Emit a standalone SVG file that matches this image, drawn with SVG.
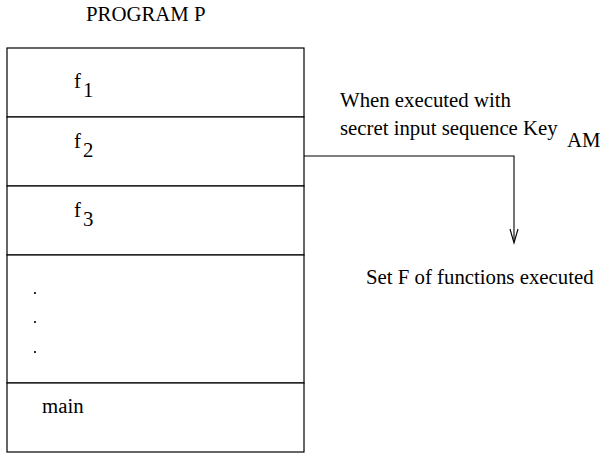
<svg xmlns="http://www.w3.org/2000/svg" width="600" height="455" viewBox="0 0 600 455">
  <style>
    text { font-family: "Liberation Serif", "Times New Roman", serif; font-size: 20.8px; fill: #000; }
    .box { fill: #fff; stroke: #000; stroke-width: 1.2; }
    .wire { fill: none; stroke: #000; stroke-width: 1.1; }
  </style>
  <rect width="600" height="455" fill="#fff"/>
  <text id="title" x="86" y="21">PROGRAM P</text>
  <g id="program">
    <g id="f1">
      <rect class="box" x="7" y="48" width="297" height="69"/>
      <text x="74" y="88">f<tspan dx="2" dy="9">1</tspan></text>
    </g>
    <g id="f2">
      <rect class="box" x="7" y="117" width="297" height="69"/>
      <text x="74" y="148">f<tspan dx="2" dy="9">2</tspan></text>
    </g>
    <g id="f3">
      <rect class="box" x="7" y="186" width="297" height="69"/>
      <text x="74" y="217">f<tspan dx="2" dy="9">3</tspan></text>
    </g>
    <g id="more">
      <rect class="box" x="7" y="255" width="297" height="128"/>
      <circle cx="35" cy="293" r="1.1"/>
      <circle cx="35" cy="322" r="1.1"/>
      <circle cx="35" cy="352" r="1.1"/>
    </g>
    <g id="main">
      <rect class="box" x="7" y="383" width="297" height="69"/>
      <text x="42" y="413">main</text>
    </g>
  </g>
  <g id="connectors">
    <polyline class="wire" points="304,156 514,156 514,242"/>
    <polyline class="wire" points="510,229 514,243 518,229"/>
  </g>
  <g id="label-execution">
    <text x="340" y="107">When executed with</text>
    <text x="340" y="135">secret input sequence Key</text>
    <text x="567" y="147">AM</text>
  </g>
  <g id="result">
    <text x="366" y="284">Set F of functions executed</text>
  </g>
</svg>
